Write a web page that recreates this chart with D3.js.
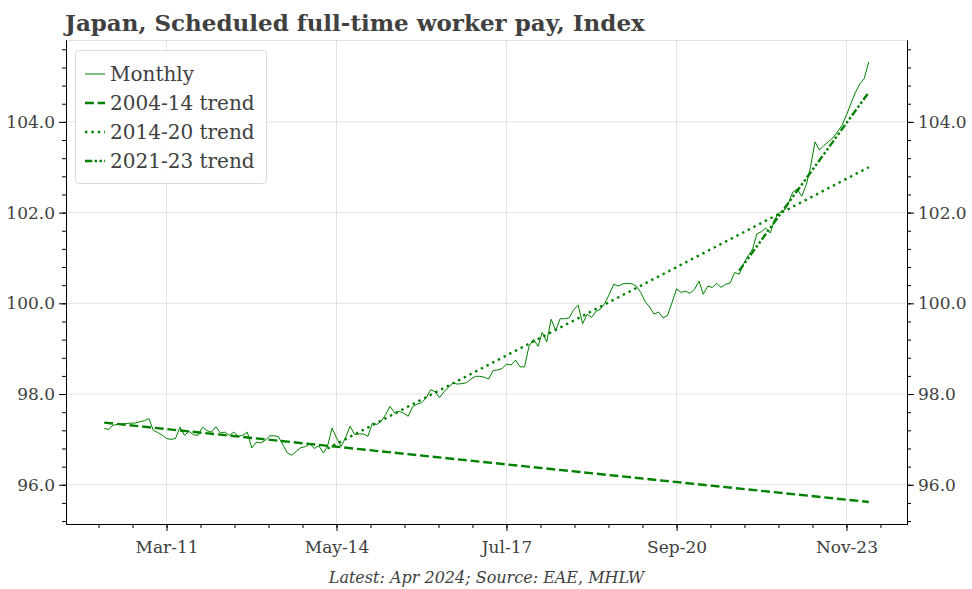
<!DOCTYPE html>
<html>
<head>
<meta charset="utf-8">
<script src="https://cdn.jsdelivr.net/npm/d3@7"></script>
<style>
  body { margin: 0; background: #fff; }
  svg text { font-family: "DejaVu Serif", Georgia, serif; fill: #404040; }
</style>
</head>
<body>
<div id="chart"></div>
<script>
// monthly index, Jan 2010 - Apr 2024
var firstMonth = "2010-01";
var monthly = [
  97.24, 97.22, 97.31, 97.33, 97.34, 97.35, 97.36, 97.36, 97.39, 97.41, 97.46, 97.20,
  97.15, 97.09, 97.02, 97.00, 97.02, 97.27, 97.09, 97.18, 97.10, 97.09, 97.27, 97.19,
  97.16, 97.28, 97.14, 97.16, 97.09, 97.16, 97.07, 97.09, 97.16, 96.81, 96.94, 96.92,
  96.98, 97.08, 97.08, 97.06, 96.88, 96.70, 96.65, 96.74, 96.82, 96.84, 96.90, 96.80,
  96.86, 96.70, 96.85, 97.25, 97.03, 96.85, 97.03, 97.29, 97.11, 97.12, 97.12, 97.07,
  97.36, 97.33, 97.40, 97.55, 97.73, 97.58, 97.62, 97.58, 97.51, 97.72, 97.78, 97.81,
  97.91, 98.10, 98.05, 97.92, 98.05, 98.15, 98.24, 98.22, 98.23, 98.25, 98.33, 98.39,
  98.39, 98.37, 98.33, 98.52, 98.53, 98.56, 98.66, 98.64, 98.75, 98.60, 98.60, 99.05,
  99.21, 99.05, 99.36, 99.15, 99.65, 99.40, 99.66, 99.66, 99.68, 99.86, 99.96, 99.55,
  99.76, 99.69, 99.82, 99.87, 100.00, 100.20, 100.42, 100.38, 100.43, 100.44, 100.43, 100.38,
  100.24, 100.03, 99.92, 99.76, 99.81, 99.68, 99.73, 100.02, 100.32, 100.24, 100.27, 100.22,
  100.31, 100.49, 100.20, 100.38, 100.35, 100.44, 100.35, 100.42, 100.45, 100.68, 100.64, 100.87,
  101.05, 101.20, 101.53, 101.58, 101.66, 101.55, 101.86, 102.00, 102.04, 102.20, 102.45, 102.52,
  102.36, 102.62, 103.00, 103.56, 103.38, 103.48, 103.56, 103.65, 103.78, 103.92, 104.15, 104.40,
  104.65, 104.84, 104.96, 105.32
];

// trend lines: end points only
var trendA_dates = ["2010-01", "2024-04"];   // 2004-14 trend
var trendA_values = [97.37, 95.62];
var trendB_dates = ["2014-03", "2024-04"];   // 2014-20 trend
var trendB_values = [96.80, 103.00];
var trendC_dates = ["2021-11", "2024-04"];   // 2021-23 trend
var trendC_values = [100.72, 104.65];

// ticks
var xTickDates = ["2011-03", "2014-05", "2017-07", "2020-09", "2023-11"];
var xTickLabels = ["Mar-11", "May-14", "Jul-17", "Sep-20", "Nov-23"];
var yTicks = [96, 98, 100, 102, 104];

var legendLabels = ["Monthly", "2004-14 trend", "2014-20 trend", "2021-23 trend"];

var lineColor = "green";
var gridColor = "#e3e3e3";

var parseMonth = d3.timeParse("%Y-%m");

var width = 972, height = 589;
var margin = { top: 40, right: 65, bottom: 65, left: 66 };

var svg = d3.select("#chart")
  .append("svg")
  .attr("width", width)
  .attr("height", height);

// data
var start = parseMonth(firstMonth);
var monthlyData = monthly.map(function(v, i) {
  return { date: d3.timeMonth.offset(start, i), value: v };
});
function toSeries(dates, values) {
  return dates.map(function(d, i) { return { date: parseMonth(d), value: values[i] }; });
}
var trendA = toSeries(trendA_dates, trendA_values);
var trendB = toSeries(trendB_dates, trendB_values);
var trendC = toSeries(trendC_dates, trendC_values);

// scales, 5% padding like the original
var t0 = monthlyData[0].date.getTime(), t1 = monthlyData[monthlyData.length - 1].date.getTime();
var tpad = (t1 - t0) * 0.05;
var x = d3.scaleTime()
  .domain([new Date(t0 - tpad), new Date(t1 + tpad)])
  .range([margin.left, width - margin.right]);

var allValues = monthly.concat(trendA_values, trendB_values, trendC_values);
var vmin = d3.min(allValues), vmax = d3.max(allValues);
var vpad = (vmax - vmin) * 0.05;
var y = d3.scaleLinear()
  .domain([vmin - vpad, vmax + vpad])
  .range([height - margin.bottom, margin.top]);

var x0 = margin.left, x1 = width - margin.right;
var y0 = height - margin.bottom, y1 = margin.top;

// grid
var majorDates = xTickDates.map(parseMonth);
svg.append("g").selectAll("line")
  .data(majorDates).enter().append("line")
  .attr("x1", function(d) { return x(d); }).attr("x2", function(d) { return x(d); })
  .attr("y1", y0).attr("y2", y1)
  .style("stroke", gridColor).style("stroke-width", 1);
svg.append("g").selectAll("line")
  .data(yTicks).enter().append("line")
  .attr("x1", x0).attr("x2", x1)
  .attr("y1", function(d) { return y(d); }).attr("y2", function(d) { return y(d); })
  .style("stroke", gridColor).style("stroke-width", 1);

// top spine
svg.append("line")
  .attr("x1", x0).attr("x2", x1).attr("y1", y1 + 0.5).attr("y2", y1 + 0.5)
  .style("stroke", gridColor);

// minor ticks: 5 steps between majors
var step = (majorDates[1] - majorDates[0]) / 5;
var dom = x.domain();
var minorDates = [];
for (var t = majorDates[0].getTime(); t >= dom[0].getTime(); t -= step) minorDates.push(new Date(t));
for (var t = majorDates[0].getTime() + step; t <= dom[1].getTime(); t += step) minorDates.push(new Date(t));
var yMinor = d3.range(95.2, 105.7, 0.4);

// axes
function styleAxis(g) {
  g.selectAll("path, line").style("stroke", "#000");
  g.selectAll("text").style("font-size", "17px").style("fill", "#404040")
    .style("font-family", "'DejaVu Serif', Georgia, serif");
}

svg.append("g")
  .attr("transform", "translate(0," + y0 + ")")
  .call(d3.axisBottom(x).tickValues(minorDates).tickFormat("").tickSize(4).tickSizeOuter(0))
  .call(styleAxis);
svg.append("g")
  .attr("transform", "translate(0," + y0 + ")")
  .call(d3.axisBottom(x).tickValues(majorDates)
    .tickFormat(function(d, i) { return xTickLabels[i]; })
    .tickSize(7).tickSizeOuter(0).tickPadding(10))
  .call(styleAxis);

svg.append("g")
  .attr("transform", "translate(" + x0 + ",0)")
  .call(d3.axisLeft(y).tickValues(yMinor).tickFormat("").tickSize(4).tickSizeOuter(0))
  .call(styleAxis);
svg.append("g")
  .attr("transform", "translate(" + x0 + ",0)")
  .call(d3.axisLeft(y).tickValues(yTicks).tickFormat(d3.format(".1f"))
    .tickSize(7).tickSizeOuter(0).tickPadding(4))
  .call(styleAxis);

svg.append("g")
  .attr("transform", "translate(" + x1 + ",0)")
  .call(d3.axisRight(y).tickValues(yMinor).tickFormat("").tickSize(4).tickSizeOuter(0))
  .call(styleAxis);
svg.append("g")
  .attr("transform", "translate(" + x1 + ",0)")
  .call(d3.axisRight(y).tickValues(yTicks).tickFormat(d3.format(".1f"))
    .tickSize(7).tickSizeOuter(0).tickPadding(4))
  .call(styleAxis);

// lines
var line = d3.line()
  .x(function(d) { return x(d.date); })
  .y(function(d) { return y(d.value); });

var trendWidth = 2.4;
var dashA = "8.9,3.8", dashB = "2.4,4", dashC = "7.2,2.4,2.4,2.4,2.4,2.4";

svg.append("path").datum(trendA)
  .attr("d", line).style("fill", "none")
  .style("stroke", lineColor).style("stroke-width", trendWidth).style("stroke-dasharray", dashA);
svg.append("path").datum(trendB)
  .attr("d", line).style("fill", "none")
  .style("stroke", lineColor).style("stroke-width", trendWidth).style("stroke-dasharray", dashB);
svg.append("path").datum(trendC)
  .attr("d", line).style("fill", "none")
  .style("stroke", lineColor).style("stroke-width", trendWidth).style("stroke-dasharray", dashC);
svg.append("path").datum(monthlyData)
  .attr("d", line).style("fill", "none")
  .style("stroke", lineColor).style("stroke-width", 1);

// legend
var legend = svg.append("g");
legend.append("rect")
  .attr("x", 75.5).attr("y", 50.5).attr("width", 191).attr("height", 133).attr("rx", 3)
  .style("fill", "#fff").style("fill-opacity", 0.85).style("stroke", "#dcdcdc");
var legendDash = [null, dashA, dashB, dashC];
var legendWidth = [1, trendWidth, trendWidth, trendWidth];
legendLabels.forEach(function(lab, i) {
  var ly = 74 + i * 29;
  legend.append("line")
    .attr("x1", 85).attr("x2", 105).attr("y1", ly).attr("y2", ly)
    .style("stroke", lineColor).style("stroke-width", legendWidth[i])
    .style("stroke-dasharray", legendDash[i]);
  legend.append("text")
    .attr("x", 110).attr("y", ly).attr("dy", "0.35em")
    .style("font-size", "20px")
    .text(lab);
});

// title and footer
svg.append("text")
  .attr("x", 65).attr("y", 31)
  .style("font-size", "23px").style("font-weight", "bold")
  .text("Japan, Scheduled full-time worker pay, Index");

svg.append("text")
  .attr("x", (x0 + x1) / 2).attr("y", 583)
  .attr("text-anchor", "middle")
  .style("font-size", "16px").style("font-style", "italic")
  .text("Latest: Apr 2024; Source: EAE, MHLW");
</script>
</body>
</html>
